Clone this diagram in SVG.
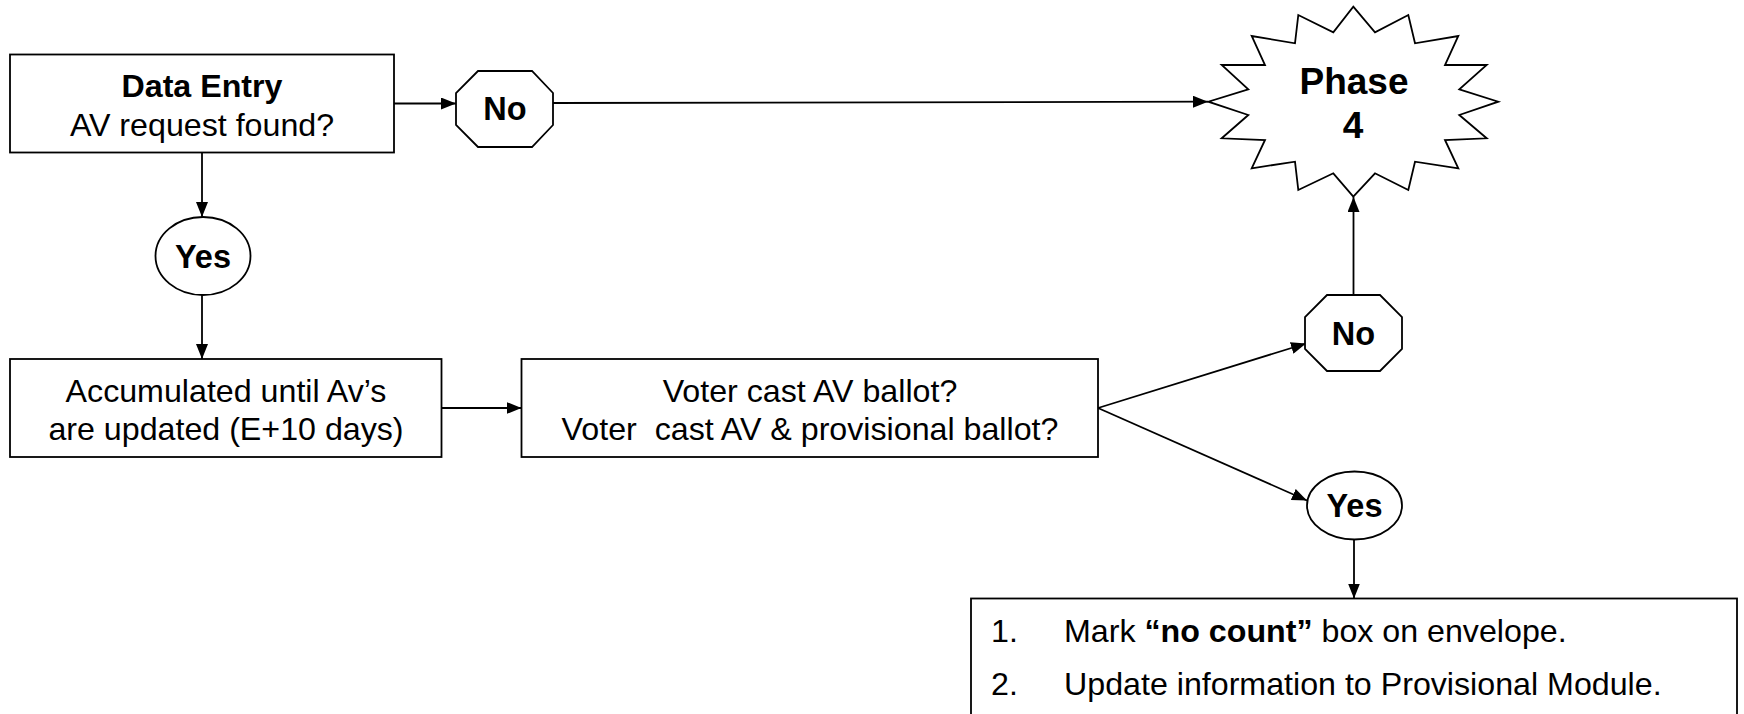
<svg xmlns="http://www.w3.org/2000/svg" width="1744" height="714" viewBox="0 0 1744 714">
<defs>
<style>
.s{fill:#fff;stroke:#000;stroke-width:1.8}
.c{fill:none;stroke:#000;stroke-width:1.8}
text{font-family:"Liberation Sans",Arial,sans-serif;font-size:32.2px;fill:#000}
.m{text-anchor:middle}
.b{font-weight:bold}
.l{font-size:32.5px;font-weight:bold;text-anchor:middle}
.p{font-size:37px;font-weight:bold;text-anchor:middle}
</style>
<marker id="ah" markerWidth="15" markerHeight="12" refX="15" refY="6" orient="auto" markerUnits="userSpaceOnUse">
<path d="M0,0 L15,6 L0,12 z" fill="#000"/>
</marker>
</defs>
<rect width="1744" height="714" fill="#fff"/>

<g id="connectors">
<line class="c" x1="394" y1="103.5" x2="456" y2="103.5" marker-end="url(#ah)"/>
<line class="c" x1="553" y1="103" x2="1208" y2="101.7" marker-end="url(#ah)"/>
<line class="c" x1="202" y1="152.5" x2="202" y2="217" marker-end="url(#ah)"/>
<line class="c" x1="202" y1="295" x2="202" y2="359" marker-end="url(#ah)"/>
<line class="c" x1="441.5" y1="408" x2="521.5" y2="408" marker-end="url(#ah)"/>
<line class="c" x1="1098" y1="408" x2="1306" y2="343.5" marker-end="url(#ah)"/>
<line class="c" x1="1098" y1="408" x2="1307" y2="500.5" marker-end="url(#ah)"/>
<line class="c" x1="1353.5" y1="295" x2="1353.5" y2="197" marker-end="url(#ah)"/>
<line class="c" x1="1354" y1="539.5" x2="1354" y2="598.5" marker-end="url(#ah)"/>
</g>

<g id="data-entry">
<rect class="s" x="10" y="54.5" width="384" height="98"/>
<text class="m b" x="202" y="97">Data Entry</text>
<text class="m" x="202" y="135.5">AV request found?</text>
</g>

<g id="no-1">
<polygon class="s" points="478,71 532,71 553,93 553,125 532,147 478,147 456,125 456,93"/>
<text class="l" x="505" y="120">No</text>
</g>

<g id="phase-4">
<polygon class="s" points="1353.3,6.7 1375,32.3 1408.3,15 1415,43.3 1458.3,36 1445,65 1486.7,65 1459.3,89.3 1498.3,101.7 1459.3,115 1486.7,138.3 1445,140 1458.3,168.3 1415,161.7 1408.3,190 1375,173.3 1353.3,196.7 1333.3,173.3 1298.3,190 1295,161.7 1251.7,168.3 1265,140 1221.7,138.3 1248.3,115 1208.3,101.7 1248.3,89.3 1221.7,65 1265,65 1251.7,36 1295,43.3 1298.3,15 1333.3,32.3"/>
<text class="p" x="1354" y="94">Phase</text>
<text class="p" x="1353" y="138">4</text>
</g>

<g id="yes-1">
<ellipse class="s" cx="203" cy="256" rx="47.5" ry="39"/>
<text class="l" x="203" y="268">Yes</text>
</g>

<g id="accumulated">
<rect class="s" x="10" y="359" width="431.5" height="98"/>
<text class="m" x="226" y="402">Accumulated until Av’s</text>
<text class="m" x="226" y="439.5">are updated (E+10 days)</text>
</g>

<g id="voter-cast">
<rect class="s" x="521.5" y="359" width="576.5" height="98"/>
<text class="m" x="810" y="402">Voter cast AV ballot?</text>
<text class="m" xml:space="preserve" x="810" y="439.5">Voter  cast AV &amp; provisional ballot?</text>
</g>

<g id="no-2">
<polygon class="s" points="1327,295 1380,295 1402,317 1402,349 1380,371 1327,371 1305,349 1305,317"/>
<text class="l" x="1353.5" y="345">No</text>
</g>

<g id="yes-2">
<ellipse class="s" cx="1354.5" cy="505.5" rx="47.5" ry="34"/>
<text class="l" x="1354.5" y="517">Yes</text>
</g>

<g id="actions">
<rect class="s" x="971" y="598.5" width="766" height="140"/>
<text x="991" y="642">1.</text>
<text x="1064" y="642">Mark <tspan class="b">“no count”</tspan> box on envelope.</text>
<text x="991" y="695">2.</text>
<text x="1064" y="695">Update information to Provisional Module.</text>
</g>
</svg>
